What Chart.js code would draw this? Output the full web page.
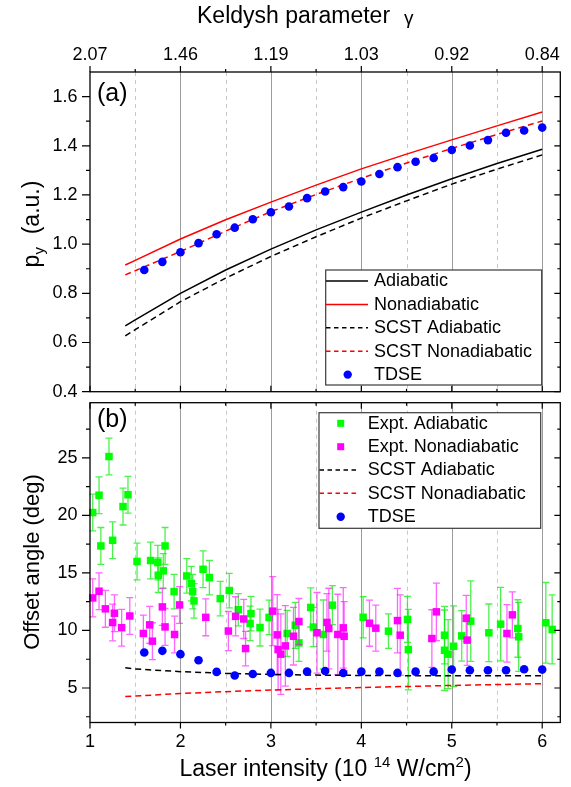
<!DOCTYPE html>
<html><head><meta charset="utf-8">
<script src="https://cdn.jsdelivr.net/npm/chart.js@4.4.1/dist/chart.umd.min.js"></script>
<style>
html,body{margin:0;padding:0;background:#fff;}
#wrap{position:relative;width:571px;height:787px;overflow:hidden;background:#fff;}
#ca{position:absolute;left:0;top:0;}
#cb{position:absolute;left:0;top:397px;}
</style></head><body>
<div id="wrap">
<canvas id="ca" width="571" height="397"></canvas>
<canvas id="cb" width="571" height="390"></canvas>
</div>
<script>
// ---------------- data ----------------
const xTicks = [1, 2, 3, 4, 5, 6];
const gammaLabels = ['2.07', '1.46', '1.19', '1.03', '0.92', '0.84'];
const pyTicks = [0.4, 0.6, 0.8, 1.0, 1.2, 1.4, 1.6];
const angleTicks = [5, 10, 15, 20, 25];

const curveX = [1.39, 1.5, 2.0, 2.5, 3.0, 3.5, 4.0, 4.5, 5.0, 5.5, 6.0];
const pyAdiabatic        = [0.668, 0.692, 0.800, 0.895, 0.980, 1.058, 1.130, 1.200, 1.266, 1.328, 1.386];
const pyNonadiabatic     = [0.915, 0.934, 1.021, 1.099, 1.171, 1.240, 1.306, 1.366, 1.424, 1.481, 1.537];
const pySCSTAdiabatic    = [0.627, 0.652, 0.766, 0.862, 0.950, 1.030, 1.106, 1.176, 1.244, 1.305, 1.363];
const pySCSTNonadiabatic = [0.875, 0.892, 0.970, 1.053, 1.132, 1.202, 1.268, 1.330, 1.389, 1.446, 1.501];

const tdseX = [1.6, 1.8, 2.0, 2.2, 2.4, 2.6, 2.8, 3.0, 3.2, 3.4, 3.6, 3.8, 4.0, 4.2, 4.4, 4.6, 4.8, 5.0, 5.2, 5.4, 5.6, 5.8, 6.0];
const pyTDSE    = [0.895, 0.928, 0.967, 1.004, 1.040, 1.067, 1.101, 1.130, 1.153, 1.187, 1.214, 1.232, 1.255, 1.285, 1.313, 1.335, 1.350, 1.383, 1.401, 1.423, 1.453, 1.462, 1.474];
const angleTDSE = [8.08, 8.23, 7.94, 7.41, 6.40, 6.08, 6.22, 6.31, 6.31, 6.42, 6.48, 6.30, 6.42, 6.42, 6.31, 6.42, 6.42, 6.60, 6.54, 6.54, 6.54, 6.63, 6.60];

const angleSCSTAdiabatic    = [6.75, 6.65, 6.42, 6.27, 6.18, 6.12, 6.09, 6.07, 6.06, 6.06, 6.06];
const angleSCSTNonadiabatic = [4.25, 4.30, 4.52, 4.68, 4.82, 4.94, 5.04, 5.13, 5.22, 5.30, 5.37];

const exptAdX   = [1.03, 1.10, 1.12, 1.21, 1.25, 1.365, 1.42, 1.52, 1.67, 1.75, 1.755, 1.81, 1.83, 1.93, 2.07, 2.12, 2.135, 2.15, 2.25, 2.32, 2.44, 2.54, 2.64, 2.77, 2.78, 2.88, 2.98, 3.18, 3.27, 3.31, 3.44, 3.47, 3.58, 3.68, 4.02, 4.30, 4.51, 4.52, 4.92, 4.92, 4.96, 5.02, 5.11, 5.21, 5.41, 5.54, 5.73, 5.74, 6.04, 6.11];
const exptAdY   = [20.25, 21.76, 17.35, 25.12, 17.84, 20.77, 21.8, 16.0, 16.08, 15.9, 14.8, 15.18, 17.35, 13.38, 14.74, 14.08, 13.38, 12.57, 15.32, 14.6, 12.77, 13.47, 11.8, 10.61, 11.47, 10.25, 11.14, 9.74, 10.45, 8.92, 12.0, 10.3, 9.65, 12.2, 11.15, 9.94, 10.96, 8.34, 9.59, 8.28, 7.94, 8.63, 9.53, 10.81, 9.8, 10.55, 10.17, 9.45, 10.67, 10.09];
const exptAdErr = [1.6, 1.6, 1.6, 1.6, 1.6, 1.6, 1.6, 1.6, 1.6, 1.5, 1.5, 1.5, 1.6, 1.5, 1.5, 1.5, 1.5, 1.5, 1.6, 1.5, 1.5, 1.5, 1.4, 1.5, 1.5, 1.6, 1.5, 2.0, 2.0, 1.6, 1.7, 1.7, 3.0, 1.7, 1.8, 1.5, 2.0, 3.5, 2.5, 3.5, 3.0, 3.5, 2.2, 3.5, 2.5, 3.2, 2.5, 3.0, 3.5, 3.0];

const exptNonX   = [1.03, 1.10, 1.17, 1.25, 1.27, 1.35, 1.44, 1.59, 1.66, 1.69, 1.80, 1.83, 1.935, 1.99, 2.28, 2.53, 2.61, 2.70, 2.72, 3.02, 3.07, 3.08, 3.11, 3.16, 3.25, 3.31, 3.51, 3.62, 3.64, 3.74, 3.80, 3.81, 4.09, 4.16, 4.40, 4.43, 4.78, 4.83, 5.16, 5.17, 5.61, 5.67];
const exptNonY   = [12.83, 13.41, 11.88, 10.69, 11.5, 10.24, 11.26, 9.74, 10.49, 9.07, 12.05, 10.31, 9.65, 12.22, 11.14, 9.95, 11.23, 11.0, 8.43, 11.68, 9.62, 8.34, 7.94, 8.66, 9.5, 10.78, 9.8, 10.7, 10.17, 9.65, 10.23, 9.5, 10.63, 10.2, 10.86, 9.59, 9.3, 11.62, 11.05, 9.16, 9.74, 11.36];
const exptNonErr = [1.65, 1.6, 1.6, 1.6, 1.6, 1.6, 1.6, 1.6, 1.6, 1.6, 1.6, 1.6, 1.6, 1.6, 1.6, 1.7, 1.7, 1.7, 1.5, 3.0, 3.5, 3.5, 3.5, 3.5, 2.5, 2.0, 3.5, 2.5, 3.5, 3.5, 3.5, 3.0, 2.0, 2.0, 2.8, 3.5, 2.5, 2.5, 2.0, 2.2, 2.5, 2.0];

// ---------------- helpers ----------------
const FONT = "'Liberation Sans', Arial, Helvetica, sans-serif";
const pts = (xs, ys) => xs.map((x, i) => ({x: x, y: ys[i]}));

function minorsOf(vals, lo, hi) {
  const out = [];
  const step = vals[1] - vals[0];
  const first = vals[0] - step / 2;
  if (first > lo) out.push(first);
  for (let i = 0; i < vals.length - 1; i++) out.push((vals[i] + vals[i + 1]) / 2);
  const last = vals[vals.length - 1] + step / 2;
  if (last < hi) out.push(last);
  return out;
}

function drawRich(ctx, parts, x, y, align) {
  let w = 0;
  parts.forEach(p => { ctx.font = p[1] + 'px ' + FONT; w += ctx.measureText(p[0]).width; });
  let cx = align === 'center' ? x - w / 2 : x;
  parts.forEach(p => {
    ctx.font = p[1] + 'px ' + FONT;
    ctx.fillText(p[0], cx, y + p[2]);
    cx += ctx.measureText(p[0]).width;
  });
}

function fixSize(prop, val) {
  return s => {
    s[prop] = val;
    s.paddingTop = 0; s.paddingBottom = 0; s.paddingLeft = 0; s.paddingRight = 0;
  };
}

const panelPlugin = {
  id: 'panel',
  beforeDatasetsDraw(chart, args, o) {
    const {ctx, chartArea: a} = chart;
    const xs = chart.scales.x;
    ctx.save();
    ctx.lineWidth = 1;
    ctx.strokeStyle = '#9c9c9c';
    ctx.setLineDash([]);
    xTicks.forEach(v => {
      if (v <= xs.min) return;
      const px = Math.round(xs.getPixelForValue(v)) + 0.5;
      ctx.beginPath(); ctx.moveTo(px, a.top); ctx.lineTo(px, a.bottom); ctx.stroke();
    });
    ctx.strokeStyle = '#c8c8c8';
    ctx.setLineDash([4, 4]);
    minorsOf(xTicks, xs.min, xs.max).forEach(v => {
      const px = Math.round(xs.getPixelForValue(v)) + 0.5;
      ctx.beginPath(); ctx.moveTo(px, a.top); ctx.lineTo(px, a.bottom); ctx.stroke();
    });
    ctx.restore();
  },
  beforeDatasetDraw(chart, args) {
    const ds = chart.data.datasets[args.index];
    if (!ds.errors) return;
    const {ctx} = chart;
    const xs = chart.scales.x, ys = chart.scales.y;
    ctx.save();
    ctx.strokeStyle = ds.errorColor;
    ctx.lineWidth = 1.3;
    ds.data.forEach((p, i) => {
      const e = ds.errors[i];
      const px = xs.getPixelForValue(p.x);
      const y1 = ys.getPixelForValue(p.y + e), y2 = ys.getPixelForValue(p.y - e);
      ctx.beginPath();
      ctx.moveTo(px, y1); ctx.lineTo(px, y2);
      ctx.moveTo(px - 3.5, y1); ctx.lineTo(px + 3.5, y1);
      ctx.moveTo(px - 3.5, y2); ctx.lineTo(px + 3.5, y2);
      ctx.stroke();
    });
    ctx.restore();
  },
  afterDatasetsDraw(chart, args, o) {
    const {ctx, chartArea: a} = chart;
    const xs = chart.scales.x, ys = chart.scales.y;
    const yT = o.yTicks;
    ctx.save();
    ctx.strokeStyle = '#000';
    ctx.lineWidth = 1.2;
    ctx.setLineDash([]);
    const xMin = minorsOf(xTicks, xs.min, xs.max);
    const tickX = (v, len) => {
      const px = xs.getPixelForValue(v);
      ctx.beginPath();
      ctx.moveTo(px, a.top); ctx.lineTo(px, a.top + o.topDir * len);
      ctx.moveTo(px, a.bottom); ctx.lineTo(px, a.bottom + o.bottomDir * len);
      ctx.stroke();
    };
    xTicks.forEach(v => tickX(v, 6));
    xMin.forEach(v => tickX(v, 3));
    const tickY = (v, lenL, lenR) => {
      const py = ys.getPixelForValue(v);
      ctx.beginPath();
      ctx.moveTo(a.left, py); ctx.lineTo(a.left - lenL, py);
      ctx.moveTo(a.right, py); ctx.lineTo(a.right - lenR, py);
      ctx.stroke();
    };
    yT.forEach(v => tickY(v, 8, 6));
    minorsOf(yT, ys.min, ys.max).forEach(v => tickY(v, 4, 3));
    ctx.lineWidth = 1.3;
    ctx.strokeRect(a.left, a.top, a.right - a.left, a.bottom - a.top);

    // legend
    const L = o.legend;
    ctx.fillStyle = '#fff';
    ctx.fillRect(L.left, L.top, L.right - L.left, L.bottom - L.top);
    ctx.strokeStyle = '#3a3a3a';
    ctx.lineWidth = 1.2;
    ctx.strokeRect(L.left, L.top, L.right - L.left, L.bottom - L.top);
    L.items.forEach((idx, k) => {
      const ds = chart.data.datasets[idx];
      const y = L.rows[k];
      ctx.save();
      if (ds.showLine) {
        ctx.strokeStyle = ds.borderColor;
        ctx.lineWidth = 1.5;
        ctx.setLineDash(ds.borderDash && ds.borderDash.length ? [4.5, 3.5] : []);
        ctx.beginPath(); ctx.moveTo(L.lineX0, y); ctx.lineTo(L.lineX1, y); ctx.stroke();
      } else if (ds.pointStyle === 'rect') {
        ctx.fillStyle = ds.backgroundColor;
        ctx.fillRect(L.markX - 3.5, y - 3.5, 7, 7);
      } else {
        ctx.fillStyle = ds.backgroundColor;
        ctx.beginPath(); ctx.arc(L.markX, y, 4.2, 0, Math.PI * 2); ctx.fill();
      }
      ctx.restore();
      ctx.fillStyle = '#000';
      ctx.font = '18px ' + FONT;
      ctx.textBaseline = 'middle';
      ctx.textAlign = 'left';
      ctx.fillText(ds.label, L.textX, y + 0.5);
    });

    ctx.fillStyle = '#000';
    ctx.textBaseline = 'alphabetic';
    ctx.textAlign = 'left';
    ctx.font = '25px ' + FONT;
    ctx.fillText(o.tag[0], o.tag[1], o.tag[2]);

    ctx.save();
    ctx.translate(o.yTitle.x, o.yTitle.y);
    ctx.rotate(-Math.PI / 2);
    drawRich(ctx, o.yTitle.parts, 0, 8, 'center');
    ctx.restore();

    if (o.xTitle) drawRich(ctx, o.xTitle.parts, o.xTitle.x, o.xTitle.y, 'center');
    if (o.topTitle) {
      ctx.font = '23px ' + FONT;
      ctx.fillText('Keldysh parameter', o.topTitle.x, o.topTitle.y);
      ctx.font = '19px ' + FONT;
      ctx.fillText('\u03b3', o.topTitle.gx, o.topTitle.y + 0.5);
    }
    ctx.restore();
  }
};

const tickFont = {family: FONT, size: 18};
const noGrid = {display: false, drawTicks: false};
const noBorder = {display: false};

// ---------------- panel (a) ----------------
new Chart(document.getElementById('ca'), {
  type: 'scatter',
  data: {
    datasets: [
      {label: 'TDSE', data: pts(tdseX, pyTDSE), backgroundColor: '#0000ff', borderColor: '#0000ff', pointRadius: 4.3, pointBorderWidth: 0, showLine: false, order: 0},
      {label: 'Adiabatic', data: pts(curveX, pyAdiabatic), borderColor: '#000000', borderWidth: 1.5, pointRadius: 0, showLine: true, borderDash: [], order: 4},
      {label: 'Nonadiabatic', data: pts(curveX, pyNonadiabatic), borderColor: '#ff0000', borderWidth: 1.5, pointRadius: 0, showLine: true, borderDash: [], order: 3},
      {label: 'SCST Adiabatic', data: pts(curveX, pySCSTAdiabatic), borderColor: '#000000', borderWidth: 1.5, pointRadius: 0, showLine: true, borderDash: [6, 4], order: 2},
      {label: 'SCST Nonadiabatic', data: pts(curveX, pySCSTNonadiabatic), borderColor: '#ff0000', borderWidth: 1.5, pointRadius: 0, showLine: true, borderDash: [6, 4], order: 1}
    ]
  },
  options: {
    responsive: false, animation: false, devicePixelRatio: 1,
    layout: {padding: {left: 0, right: 10.7, top: 0, bottom: 5.3}},
    plugins: {
      legend: {display: false}, tooltip: {enabled: false},
      panel: {
        yTicks: pyTicks, topDir: -1, bottomDir: -1,
        tag: ['(a)', 97, 101],
        yTitle: {x: 31, y: 224, parts: [['p', 23, 0], ['y', 15, 5], ['  (a.u.)', 23, 0]]},
        topTitle: {x: 197, y: 23, gx: 404},
        legend: {left: 325.7, top: 270, right: 541.7, bottom: 385, lineX0: 326, lineX1: 368,
                 markX: 347.7, textX: 374, items: [1, 2, 3, 4, 0], rows: [281, 304.4, 327.8, 351.2, 374.6]}
      }
    },
    scales: {
      x: {type: 'linear', position: 'bottom', min: 1, max: 6.2, bounds: 'data',
          ticks: {display: false}, grid: noGrid, border: noBorder,
          afterFit: fixSize('height', 0)},
      x2: {type: 'linear', position: 'top', min: 1, max: 6.2, bounds: 'data',
           afterBuildTicks: s => { s.ticks = xTicks.map(v => ({value: v})); },
           ticks: {autoSkip: false, maxRotation: 0, padding: 6.5, font: tickFont, color: '#000',
                   callback: (v, i) => gammaLabels[i]},
           grid: noGrid, border: noBorder,
           afterFit: fixSize('height', 72)},
      y: {type: 'linear', position: 'left', min: 0.4, max: 1.7, bounds: 'data',
          afterBuildTicks: s => { s.ticks = pyTicks.map(v => ({value: v})); },
          ticks: {autoSkip: false, padding: 12.5, font: tickFont, color: '#000',
                  callback: v => v.toFixed(1)},
          grid: noGrid, border: noBorder,
          afterFit: fixSize('width', 90)}
    }
  },
  plugins: [panelPlugin]
});

// ---------------- panel (b) ----------------
new Chart(document.getElementById('cb'), {
  type: 'scatter',
  data: {
    datasets: [
      {label: 'TDSE', data: pts(tdseX, angleTDSE), backgroundColor: '#0000ff', borderColor: '#0000ff', pointRadius: 4.3, pointBorderWidth: 0, showLine: false, order: 0},
      {label: 'Expt. Adiabatic', data: pts(exptAdX, exptAdY), errors: exptAdErr, errorColor: 'rgba(0,235,0,0.7)',
       backgroundColor: '#00ff00', borderColor: '#00ff00', pointStyle: 'rect', pointRadius: 5.3, pointBorderWidth: 0, showLine: false, clip: false, order: 4},
      {label: 'Expt. Nonadiabatic', data: pts(exptNonX, exptNonY), errors: exptNonErr, errorColor: 'rgba(255,0,255,0.6)',
       backgroundColor: '#ff00ff', borderColor: '#ff00ff', pointStyle: 'rect', pointRadius: 5.3, pointBorderWidth: 0, showLine: false, clip: false, order: 3},
      {label: 'SCST Adiabatic', data: pts(curveX, angleSCSTAdiabatic), borderColor: '#000000', borderWidth: 1.5, pointRadius: 0, showLine: true, borderDash: [6, 4], order: 2},
      {label: 'SCST Nonadiabatic', data: pts(curveX, angleSCSTNonadiabatic), borderColor: '#ff0000', borderWidth: 1.5, pointRadius: 0, showLine: true, borderDash: [6, 4], order: 1}
    ]
  },
  options: {
    responsive: false, animation: false, devicePixelRatio: 1,
    layout: {padding: {left: 0, right: 10.7, top: 5.7, bottom: 0}},
    plugins: {
      legend: {display: false}, tooltip: {enabled: false},
      panel: {
        yTicks: angleTicks, topDir: 1, bottomDir: 1,
        tag: ['(b)', 97, 30],
        yTitle: {x: 31, y: 165, parts: [['Offset angle (deg)', 22, 0]]},
        xTitle: {x: 325.5, y: 379, parts: [['Laser intensity (10 ', 23, 0], ['14', 15, -9], [' W/cm', 23, 0], ['2', 15, -9], [')', 23, 0]]},
        legend: {left: 319, top: 15.7, right: 540.7, bottom: 131.3, lineX0: 319.5, lineX1: 357,
                 markX: 340.7, textX: 367.7, items: [1, 2, 3, 4, 0], rows: [26.3, 49.7, 73, 96.3, 119.7]}
      }
    },
    scales: {
      x: {type: 'linear', position: 'bottom', min: 1, max: 6.2, bounds: 'data',
          afterBuildTicks: s => { s.ticks = xTicks.map(v => ({value: v})); },
          ticks: {autoSkip: false, maxRotation: 0, padding: 9.2, font: tickFont, color: '#000',
                  callback: v => String(v)},
          grid: noGrid, border: noBorder,
          afterFit: fixSize('height', 64.5)},
      y: {type: 'linear', position: 'left', min: 2, max: 29.8, bounds: 'data',
          afterBuildTicks: s => { s.ticks = angleTicks.map(v => ({value: v})); },
          ticks: {autoSkip: false, padding: 12.5, font: tickFont, color: '#000',
                  callback: v => String(v)},
          grid: noGrid, border: noBorder,
          afterFit: fixSize('width', 90)}
    }
  },
  plugins: [panelPlugin]
});
</script>
</body></html>
